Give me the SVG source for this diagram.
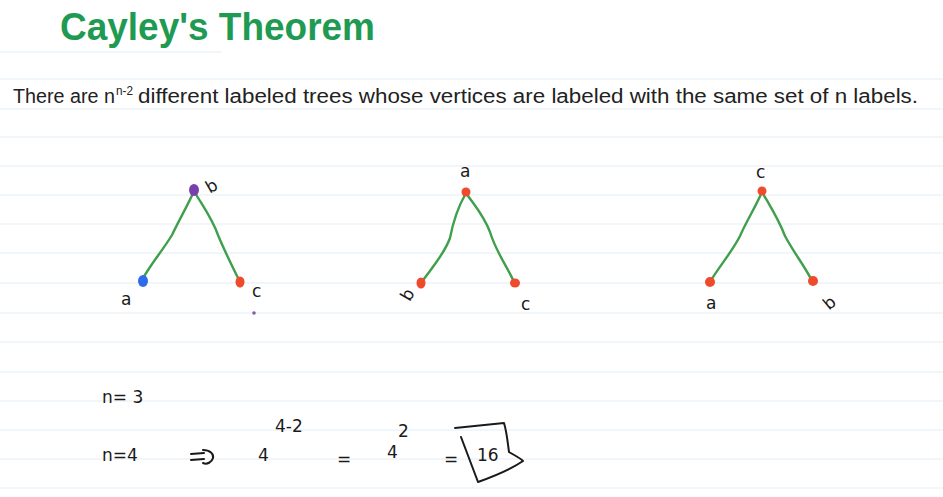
<svg xmlns="http://www.w3.org/2000/svg" width="943" height="497" viewBox="0 0 943 497">
<style>
.rule{stroke:#e3edf7;stroke-width:1.2}
.edge{fill:none;stroke:#3f9f4c;stroke-width:2.4;stroke-linecap:round;stroke-linejoin:round}
.hand{font-family:"DejaVu Sans","Liberation Sans",sans-serif;fill:#1a1a1a;font-size:17px}
.ink{fill:none;stroke:#1a1a1a;stroke-width:2;stroke-linecap:round;stroke-linejoin:round}
.red{fill:#ee4a2b}
</style>
<rect width="943" height="497" fill="#ffffff"/>
<g id="paper">
<line class="rule" x1="0" y1="52" x2="222" y2="52"/>
<line class="rule" x1="0" y1="79" x2="943" y2="79"/>
<line class="rule" x1="0" y1="109" x2="943" y2="109"/>
<line class="rule" x1="0" y1="137" x2="943" y2="137"/>
<line class="rule" x1="0" y1="166" x2="943" y2="166"/>
<line class="rule" x1="0" y1="195" x2="943" y2="195"/>
<line class="rule" x1="0" y1="224" x2="943" y2="224"/>
<line class="rule" x1="0" y1="253" x2="943" y2="253"/>
<line class="rule" x1="0" y1="283" x2="943" y2="283"/>
<line class="rule" x1="0" y1="313" x2="943" y2="313"/>
<line class="rule" x1="0" y1="342" x2="943" y2="342"/>
<line class="rule" x1="0" y1="372" x2="943" y2="372"/>
<line class="rule" x1="0" y1="401" x2="943" y2="401"/>
<line class="rule" x1="0" y1="430" x2="943" y2="430"/>
<line class="rule" x1="0" y1="459" x2="943" y2="459"/>
<line class="rule" x1="0" y1="488" x2="943" y2="488"/>
</g>
<g id="title">
<text x="60" y="40" font-family="Liberation Sans, Arial, sans-serif" font-weight="bold" font-size="39" fill="#1f9a52" textLength="315" lengthAdjust="spacingAndGlyphs">Cayley's Theorem</text>
</g>
<g id="statement" font-family="Liberation Sans, Arial, sans-serif" fill="#222">
<text x="13" y="103" font-size="20" textLength="102" lengthAdjust="spacingAndGlyphs">There are n</text>
<text x="116" y="95" font-size="12" textLength="17" lengthAdjust="spacingAndGlyphs">n-2</text>
<text x="138" y="103" font-size="20" textLength="780" lengthAdjust="spacingAndGlyphs">different labeled trees whose vertices are labeled with the same set of n labels.</text>
</g>
<g id="connectors">
<path class="edge" d="M194,191 C188,205 180,218 172,235 C163,250 150,265 142,280"/>
<path class="edge" d="M194,191 C202,205 212,218 218,235 C225,252 233,268 240,282"/>
<path class="edge" d="M466,193 C458,207 453,222 450,238 C444,255 430,270 421,283"/>
<path class="edge" d="M466,193 C474,205 483,214 490,232 C496,252 508,268 514,282"/>
<path class="edge" d="M762,192 C755,208 746,222 740,236 C732,252 718,268 710,282"/>
<path class="edge" d="M762,192 C770,206 778,218 785,236 C794,253 806,268 812,281"/>
</g>
<g id="tree1">
<ellipse cx="194" cy="190" rx="5" ry="6" fill="#7a3fae"/>
<ellipse cx="143" cy="281" rx="5" ry="6" fill="#2f6bea"/>
<ellipse cx="240" cy="282" rx="4.5" ry="5.5" class="red"/>
<circle cx="254" cy="313" r="1.8" fill="#8060a8"/>
<text class="hand" x="206" y="192" transform="rotate(-30 211 186)">b</text>
<text class="hand" x="121" y="305">a</text>
<text class="hand" x="252" y="297">c</text>
</g>
<g id="tree2">
<circle cx="466" cy="192" r="4.5" class="red"/>
<ellipse cx="421" cy="283" rx="4.5" ry="5.5" class="red"/>
<ellipse cx="515" cy="283" rx="5" ry="4.5" class="red"/>
<text class="hand" x="460" y="177" font-size="13">a</text>
<text class="hand" x="402" y="301" transform="rotate(-60 407 295)" font-size="15">b</text>
<text class="hand" x="521" y="310">c</text>
</g>
<g id="tree3">
<circle cx="762" cy="191" r="4.5" class="red"/>
<circle cx="710" cy="282" r="5" class="red"/>
<circle cx="813" cy="281" r="5" class="red"/>
<text class="hand" x="756" y="178">c</text>
<text class="hand" x="706" y="309" font-size="15">a</text>
<text class="hand" x="824" y="309" font-size="15" transform="rotate(-40 829 303)">b</text>
</g>
<g id="work">
<text class="hand" x="102" y="403">n= 3</text>
<text class="hand" x="102" y="461">n=4</text>
<path class="ink" d="M191,454 L204,453 M191,460 L204,459 M203,450 C210,450 214,454 213,458 C212,462 207,465 203,463"/>
<text class="hand" x="258" y="461">4</text>
<text class="hand" x="275" y="432">4-2</text>
<text class="hand" x="337" y="465">=</text>
<text class="hand" x="387" y="458">4</text>
<text class="hand" x="398" y="437">2</text>
<text class="hand" x="444" y="465">=</text>
<text class="hand" x="477" y="461" font-size="22">16</text>
<path class="ink" d="M455,428 L504,423 C507,433 508,445 509,452 C514,455 520,458 523,461 C510,470 492,477 478,482 C472,466 466,450 461,437"/>
</g>
</svg>
